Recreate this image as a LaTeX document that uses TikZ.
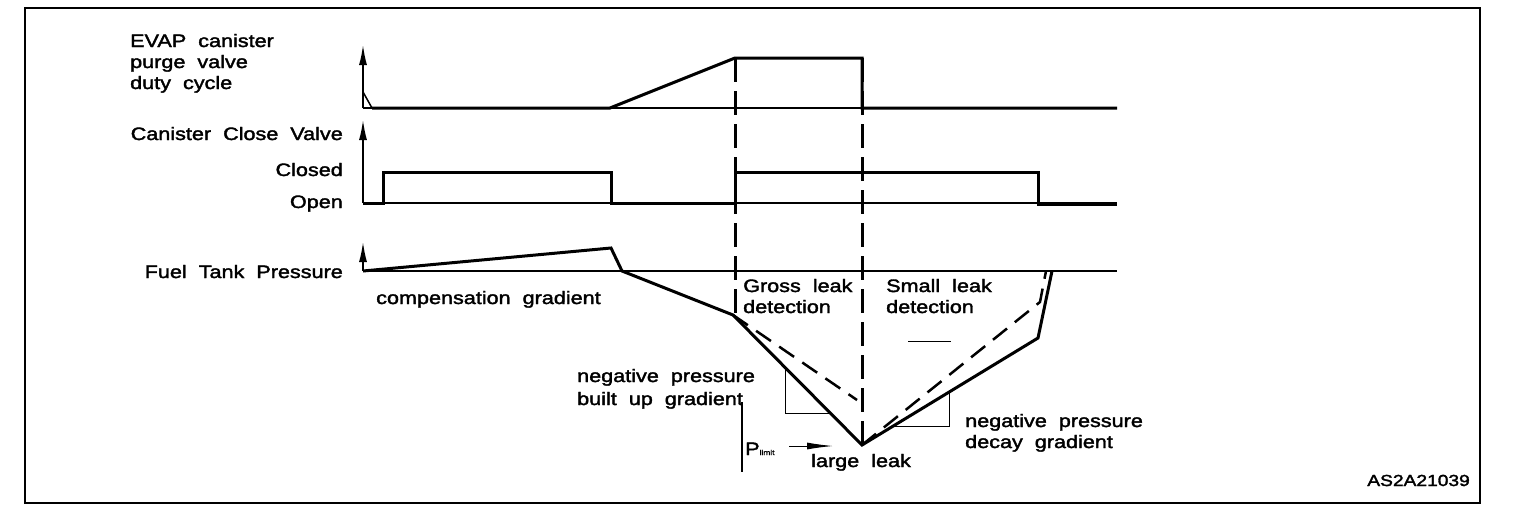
\documentclass[tikz,border=0pt]{standalone}
\usepackage{fontspec}
\setmainfont{Liberation Sans}[FakeStretch=1.2,WordSpace=2,FakeBold=2]
\usetikzlibrary{arrows.meta}

\tikzset{
  lbl/.style={inner sep=0pt,font=\fontsize{18}{21}\selectfont},
  sig/.style={line width=3pt,line join=miter},
  base/.style={line width=1.5pt},
  grad/.style={line width=1pt},
  cut/.style={line width=3pt,dash pattern=on 24pt off 9pt},
  leak/.style={line width=2.5pt,dash pattern=on 18pt off 10pt},
  axis/.style={line width=1.5pt,-{Latex[length=20pt,width=8pt]}}
}

\begin{document}
\begin{tikzpicture}[x=1pt,y=-1pt]

\useasboundingbox (0,0) rectangle (1520,520);

\draw [line width=2.5pt] (25,8) rectangle (1480,503);

% labels on the left
\node [lbl,anchor=base west] (evapa) at (130,47) {EVAP canister};
\node [lbl,anchor=base west] (evapb) at (130,68) {purge valve};
\node [lbl,anchor=base west] (evapc) at (130,89) {duty cycle};
\node [lbl,anchor=base east] (ccv) at (343,140) {Canister Close Valve};
\node [lbl,anchor=base east] (closed) at (343,176) {Closed};
\node [lbl,anchor=base east] (open) at (343,208) {Open};
\node [lbl,anchor=base east] (ftp) at (343,278) {Fuel Tank Pressure};

% base lines and axes
\draw [base] (363,108) -- (1117,108);
\draw [base] (363,203) -- (1117,203);
\draw [base] (363,271) -- (1117,271);
\draw [axis] (363,108) -- (363,45);
\draw [axis] (363,203) -- (363,120);
\draw [axis] (363,271) -- (363,242);

% purge valve
\draw [base] (363,92) -- (372,108);
\draw [sig] (372,108) -- (610,108) -- (735,58) -- (862,58) -- (862,108) -- (1117,108);

% close valve
\draw [sig] (363,203) -- (383,203) -- (383,172) -- (611,172) -- (611,203) -- (735,203)
  -- (735,172) -- (1038,172) -- (1038,204) -- (1117,204);

% tank pressure
\draw [sig] (363,271) -- (611,248) -- (622,271) -- (733,315) -- (862,445) -- (1038,338) -- (1052,271);
\draw [leak] (733,315) -- (857,400);
\draw [leak] (862,445) -- (1040,302) -- (1046,271);

\draw [cut] (735,58) -- (735,315);
\draw [cut] (862,58) -- (862,445);

% gradients
\draw [grad] (785,367) -- (785,413) -- (831,413);
\draw [grad] (893,426) -- (949,426) -- (949,392);
\draw [grad] (908,341) -- (951,341);

\draw [base] (742,402) -- (742,472);
\draw [grad,-{Latex[length=26pt,width=7pt]}] (789,446) -- (833,446);

\node [lbl,anchor=base west] (comp) at (376,304) {compensation gradient};
\node [lbl,anchor=base west] (grossa) at (743,292) {Gross leak};
\node [lbl,anchor=base west] (grossb) at (743,313) {detection};
\node [lbl,anchor=base west] (smalla) at (886,292) {Small leak};
\node [lbl,anchor=base west] (smallb) at (886,313) {detection};
\node [lbl,anchor=base west] (builda) at (577,382) {negative pressure};
\node [lbl,anchor=base west] (buildb) at (577,405) {built up gradient};
\node [lbl,anchor=base west] (decaya) at (965,427) {negative pressure};
\node [lbl,anchor=base west] (decayb) at (965,448) {decay gradient};
\node [lbl,anchor=base west] (plimit) at (745,455) {P{\fontsize{7}{8}\selectfont limit}};
\node [lbl,anchor=base west] (large) at (811,467) {large leak};
\node [lbl,anchor=base east,font=\fontsize{16}{18}\selectfont] (code) at (1470,486) {AS2A21039};

\end{tikzpicture}
\end{document}
